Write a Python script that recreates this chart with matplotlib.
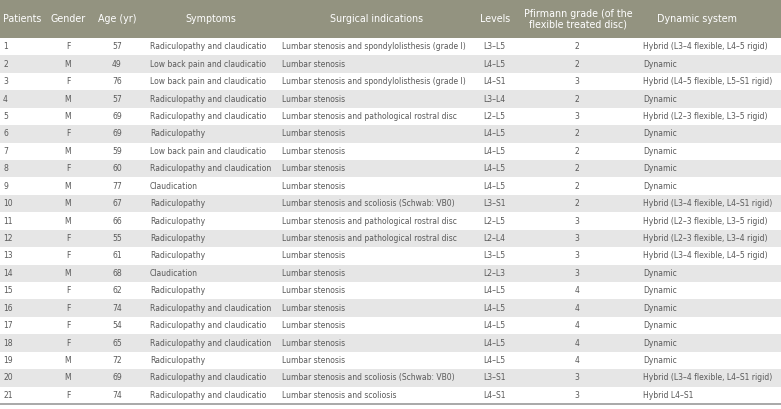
import matplotlib.pyplot as plt
from matplotlib.patches import Rectangle
from matplotlib import font_manager

# ==============================
# TABLE DATA
# ==============================

headers = ["Patients", "Gender", "Age (yr)", "Symptoms", "Surgical indications",
           "Levels", "Pfirmann grade (of the\nflexible treated disc)", "Dynamic system"]

patients = list(range(1, 22))
gender = ["F", "M", "F", "M", "M", "F", "M", "F", "M", "M", "M",
          "F", "F", "M", "F", "F", "F", "F", "M", "M", "F"]
age = [57, 49, 76, 57, 69, 69, 59, 60, 77, 67, 66, 55, 61, 68, 62, 74, 54, 65, 72, 69, 74]
symptoms = [
    "Radiculopathy and claudicatio",
    "Low back pain and claudicatio",
    "Low back pain and claudicatio",
    "Radiculopathy and claudicatio",
    "Radiculopathy and claudicatio",
    "Radiculopathy",
    "Low back pain and claudicatio",
    "Radiculopathy and claudication",
    "Claudication",
    "Radiculopathy",
    "Radiculopathy",
    "Radiculopathy",
    "Radiculopathy",
    "Claudication",
    "Radiculopathy",
    "Radiculopathy and claudication",
    "Radiculopathy and claudicatio",
    "Radiculopathy and claudication",
    "Radiculopathy",
    "Radiculopathy and claudicatio",
    "Radiculopathy and claudicatio",
]
indications = [
    "Lumbar stenosis and spondylolisthesis (grade I)",
    "Lumbar stenosis",
    "Lumbar stenosis and spondylolisthesis (grade I)",
    "Lumbar stenosis",
    "Lumbar stenosis and pathological rostral disc",
    "Lumbar stenosis",
    "Lumbar stenosis",
    "Lumbar stenosis",
    "Lumbar stenosis",
    "Lumbar stenosis and scoliosis (Schwab: VB0)",
    "Lumbar stenosis and pathological rostral disc",
    "Lumbar stenosis and pathological rostral disc",
    "Lumbar stenosis",
    "Lumbar stenosis",
    "Lumbar stenosis",
    "Lumbar stenosis",
    "Lumbar stenosis",
    "Lumbar stenosis",
    "Lumbar stenosis",
    "Lumbar stenosis and scoliosis (Schwab: VB0)",
    "Lumbar stenosis and scoliosis",
]
levels = ["L3\u2013L5", "L4\u2013L5", "L4\u2013S1", "L3\u2013L4", "L2\u2013L5", "L4\u2013L5",
          "L4\u2013L5", "L4\u2013L5", "L4\u2013L5", "L3\u2013S1", "L2\u2013L5", "L2\u2013L4",
          "L3\u2013L5", "L2\u2013L3", "L4\u2013L5", "L4\u2013L5", "L4\u2013L5", "L4\u2013L5",
          "L4\u2013L5", "L3\u2013S1", "L4\u2013S1"]
pfirmann = [2, 2, 3, 2, 3, 2, 2, 2, 2, 2, 3, 3, 3, 3, 4, 4, 4, 4, 4, 3, 3]
dynamic = [
    "Hybrid (L3\u20134 flexible, L4\u20135 rigid)",
    "Dynamic",
    "Hybrid (L4\u20135 flexible, L5\u2013S1 rigid)",
    "Dynamic",
    "Hybrid (L2\u20133 flexible, L3\u20135 rigid)",
    "Dynamic",
    "Dynamic",
    "Dynamic",
    "Dynamic",
    "Hybrid (L3\u20134 flexible, L4\u2013S1 rigid)",
    "Hybrid (L2\u20133 flexible, L3\u20135 rigid)",
    "Hybrid (L2\u20133 flexible, L3\u20134 rigid)",
    "Hybrid (L3\u20134 flexible, L4\u20135 rigid)",
    "Dynamic",
    "Dynamic",
    "Dynamic",
    "Dynamic",
    "Dynamic",
    "Dynamic",
    "Hybrid (L3\u20134 flexible, L4\u2013S1 rigid)",
    "Hybrid L4\u2013S1",
]

# ==============================
# LAYOUT (pixel coords)
# ==============================

W, H = 781, 409
HEADER_H = 38
ROW_H = 17.43
HEADER_BG = "#939380"
STRIPE = "#e6e6e6"
TEXT = "#5a5a5a"

# narrow face if one is installed
names = {f.name for f in font_manager.fontManager.ttflist}
narrow = [n for n in ["Liberation Sans Narrow", "DejaVu Sans Condensed"] if n in names]
FONT = narrow + ["DejaVu Sans"]
STRETCH = "condensed"
FS = 6.1
HEAD_FS = 7.7

# (x, alignment) for data and header of each column
data_pos = [(3, "left"), (68, "center"), (117, "center"), (150, "left"), (282, "left"),
            (483, "left"), (577, "center"), (643, "left")]
head_pos = [(3, "left"), (68, "center"), (117, "center"), (211, "center"), (377, "center"),
            (495, "center"), (578, "center"), (697, "center")]

fig = plt.figure(figsize=(W / 100, H / 100), dpi=100)
ax = fig.add_axes([0, 0, 1, 1])
ax.set_xlim(0, W)
ax.set_ylim(H, 0)
ax.axis("off")

# header
ax.add_patch(Rectangle((0, 0), W, HEADER_H, color=HEADER_BG, lw=0))
for (x, ha), label in zip(head_pos, headers):
    ax.text(x, HEADER_H / 2, label, ha=ha, va="center", color="white",
            fontsize=HEAD_FS, family=FONT, stretch=STRETCH, linespacing=1.05)

columns = [patients, gender, age, symptoms, indications, levels, pfirmann, dynamic]
for i in range(len(patients)):
    y0 = HEADER_H + i * ROW_H
    if i % 2 == 1:
        ax.add_patch(Rectangle((0, y0), W, ROW_H, color=STRIPE, lw=0))
    for (x, ha), col in zip(data_pos, columns):
        ax.text(x, y0 + ROW_H / 2, str(col[i]), ha=ha, va="center", color=TEXT,
                fontsize=FS, family=FONT, stretch=STRETCH)

bottom = HEADER_H + len(patients) * ROW_H
ax.plot([0, W], [bottom, bottom], color="#999999", lw=1.2)

fig.savefig("out.png", dpi=100)
